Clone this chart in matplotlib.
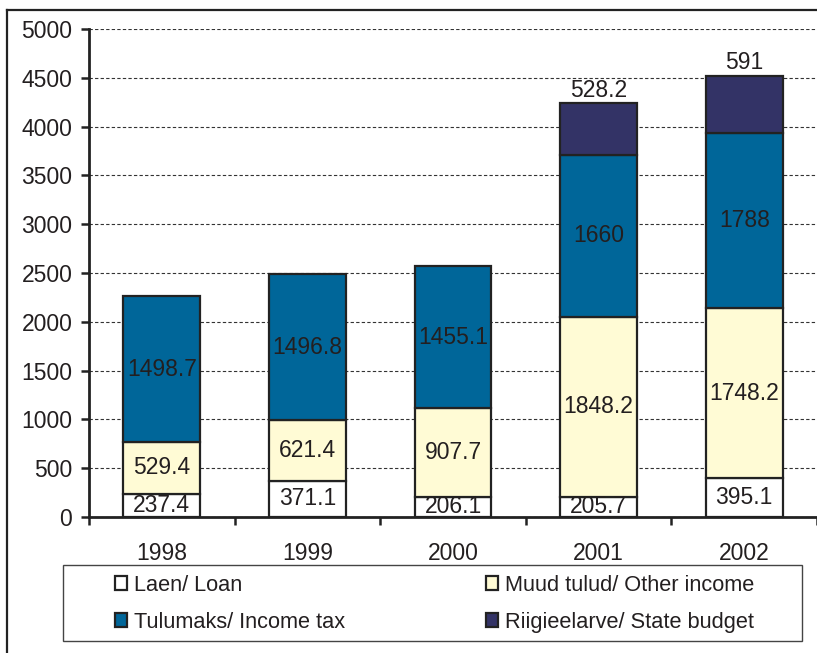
import matplotlib
matplotlib.use("Agg")
import matplotlib.pyplot as plt
from matplotlib.patches import Patch, Rectangle
from matplotlib.lines import Line2D
import numpy as np

plt.rcParams['font.family'] = ['Liberation Sans', 'DejaVu Sans']

years = ['1998', '1999', '2000', '2001', '2002']
loan = [237.4, 371.1, 206.1, 205.7, 395.1]
other_income = [529.4, 621.4, 907.7, 1848.2, 1748.2]
income_tax = [1498.7, 1496.8, 1455.1, 1660, 1788]
state_budget = [None, None, None, 528.2, 591]

series_names = ['Laen/ Loan', 'Muud tulud/ Other income',
                'Tulumaks/ Income tax', 'Riigieelarve/ State budget']
colors = ['#FFFFFF', '#FFFBD5', '#006699', '#333366']
yticks = [0, 500, 1000, 1500, 2000, 2500, 3000, 3500, 4000, 4500, 5000]

W, H = 817, 653
fig = plt.figure(figsize=(W / 100, H / 100), dpi=100)
ax = fig.add_axes([89 / W, (H - 517) / H, (W - 89) / W, (517 - 29) / H])

x = np.arange(len(years))
bw = 0.527
edge = '#222222'
lw = 1.6
fs = 16.5
tcol = '#231f20'

bottom = np.zeros(len(years))
for vals, c in zip([loan, other_income, income_tax], colors[:3]):
    v = np.array(vals, dtype=float)
    bc = ax.bar(x, v, bw, bottom=bottom, color=c, edgecolor=edge, linewidth=lw, zorder=3)
    ax.bar_label(bc, labels=[f"{a:g}" for a in v], label_type='center',
                 fontsize=fs, color=tcol, zorder=4)
    bottom = bottom + v

sb_idx = [i for i, v in enumerate(state_budget) if v is not None]
sb_vals = np.array([state_budget[i] for i in sb_idx], dtype=float)
bc = ax.bar(x[sb_idx], sb_vals, bw, bottom=bottom[sb_idx], color=colors[3],
            edgecolor=edge, linewidth=lw, zorder=3)
ax.bar_label(bc, labels=[f"{a:g}" for a in sb_vals], label_type='edge',
             padding=1, fontsize=fs, color=tcol, zorder=4)

ax.set_ylim(0, 5000)
ax.set_xlim(-0.5, 4 + 71 / 146)
ax.set_yticks(yticks)
ax.set_yticklabels([str(t) for t in yticks], fontsize=fs, color=tcol)
ax.yaxis.grid(True, linestyle=(0, (3, 2)), color='#333333', linewidth=0.8, zorder=0)

ax.set_xticks(np.arange(len(years) + 1) - 0.5)
ax.set_xticklabels([])
ax.set_xticks(x, minor=True)
ax.set_xticklabels(years, minor=True, fontsize=fs, color=tcol)
ax.tick_params(axis='x', which='major', direction='out', length=6, width=1.8, color=edge)
ax.tick_params(axis='x', which='minor', length=0, pad=18)
ax.tick_params(axis='y', direction='out', length=6, width=1.8, color=edge, pad=6)

for s in ['top', 'right']:
    ax.spines[s].set_visible(False)
for s in ['left', 'bottom']:
    ax.spines[s].set_linewidth(2)
    ax.spines[s].set_color(edge)
    ax.spines[s].set_zorder(5)

# outer chart frame (partially cropped)
fig.add_artist(Line2D([7 / W, 7 / W], [0, 1 - 10 / H], transform=fig.transFigure,
                      color=edge, linewidth=1.6))
fig.add_artist(Line2D([7 / W, 1], [1 - 10 / H, 1 - 10 / H], transform=fig.transFigure,
                      color=edge, linewidth=1.6))

# legend frame
fig.add_artist(Rectangle((63 / W, (H - 641) / H), (802 - 63) / W, (641 - 565) / H,
                         transform=fig.transFigure, fill=False, edgecolor='#444444',
                         linewidth=1.0))

handles = [Patch(facecolor=c, edgecolor=edge, linewidth=1.6) for c in colors]
order = [0, 2, 1, 3]
leg = fig.legend([handles[i] for i in order], [series_names[i] for i in order],
                 ncol=2, loc='upper left', bbox_to_anchor=(115 / W, 1 - 575 / H),
                 frameon=False, fontsize=15.7, handlelength=0.55, handleheight=0.6,
                 handletextpad=0.33, columnspacing=6.45, labelspacing=0.73,
                 borderpad=0, borderaxespad=0)
for t in leg.get_texts():
    t.set_color(tcol)

fig.savefig('out.png', dpi=100)
